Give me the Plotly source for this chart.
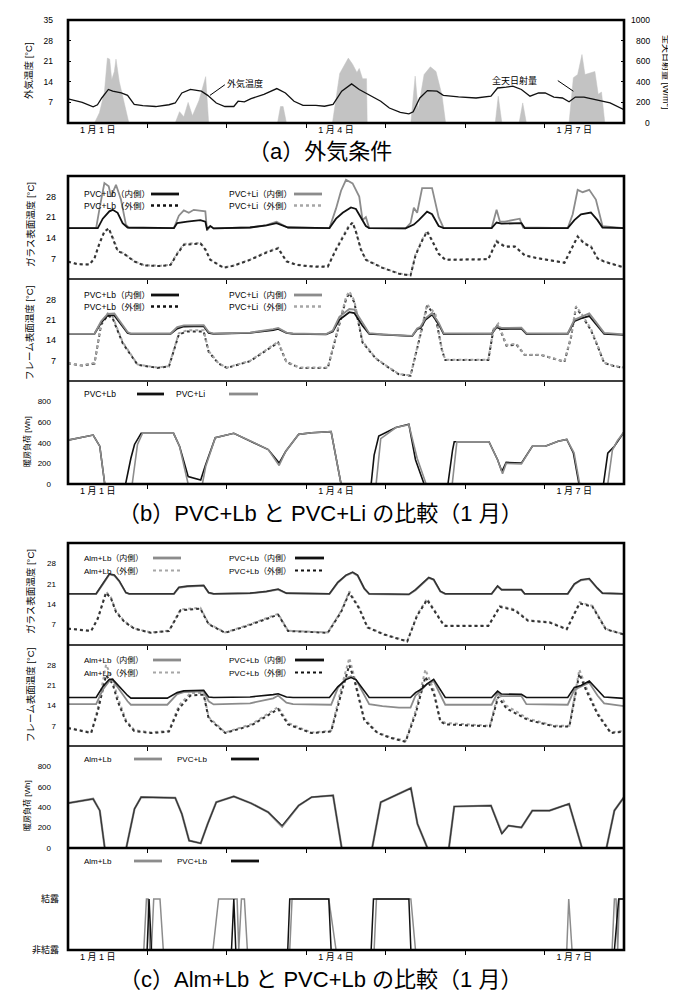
import plotly.graph_objects as go

W, H = 676, 995
X0, X1 = 60, 616
FONT = "Liberation Sans, Noto Sans CJK JP, sans-serif"
BLACK = "#111111"
GRAY = "#8c8c8c"
LGRAY = "#a6a6a6"
FILL = "#c3c3c3"


def fx(p):
    return p / W


def fy(p):
    return 1 - p / H


# ---------------- data ----------------
DAY_TICKS = [24, 48, 72, 96, 120, 144]
LABEL_VALS = [9, 81, 153]
LABEL_TEXT = ["1 月 1 日", "1 月 4 日", "1 月 7 日"]
SR_TICKS = [0, 200, 400, 600, 800, 1000]

# (a) outdoor temperature [°C]
TA_H = [0, 4.3, 7.6, 8.9, 10.2, 12.2, 13.5, 16.1, 18.0, 20.0,
        22.6, 26.5, 30.5, 32.4, 34.4, 37.0, 40.3, 42.2, 44.8, 47.4,
        50.1, 51.4, 53.3, 55.3, 59.2, 63.1, 65.7, 68.3, 71.0, 74.9,
        77.5, 80.1, 82.7, 85.7, 88.0, 90.6, 94.5, 97.1, 100.4, 103.0,
        104.3, 106.3, 108.6, 111.5, 113.4, 118.0, 123.3, 127.8, 129.8, 132.4,
        134.4, 137.0, 139.6, 142.2, 144.2, 146.8, 149.4, 151.4, 153.3, 155.9,
        157.9, 161.2, 163.8, 168]
TA_V = [8.2, 7.0, 5.5, 6.2, 8.5, 11.4, 10.8, 10.2, 9.4, 6.3,
        5.9, 5.6, 6.2, 6.8, 10.2, 11.4, 10.8, 9.4, 6.8, 5.6,
        5.6, 7.4, 7.2, 8.3, 9.7, 11.7, 10.2, 7.4, 6.0, 6.0,
        5.7, 6.3, 10.8, 13.3, 11.4, 9.7, 7.4, 5.1, 3.6, 3.1,
        3.8, 8.5, 11.0, 10.8, 9.4, 8.9, 8.5, 9.1, 11.9, 12.2,
        12.5, 11.4, 9.1, 10.2, 10.2, 8.8, 8.5, 7.2, 8.8, 8.8,
        8.3, 7.6, 6.8, 4.5]

# (a) global solar radiation [W/m2]
SR_H = [0, 8.0, 9.5, 11.0, 11.9, 12.6, 13.2, 14.0, 14.5, 15.5, 18.4,
        32.4, 33.7, 35.0, 36.3, 37.6, 39.6, 41.6, 42.5,
        63.3, 64.2, 65.0, 66.0,
        79.9, 82.1, 83.5, 84.7, 86.0, 87.3, 88.0, 89.0, 90.2, 90.4,
        103.6, 104.9, 105.8, 107.6, 109.5, 111.2, 113.0, 114.1,
        129.1, 130.0, 131.1, 136.3, 137.4, 138.5,
        151.4, 152.7, 154.0, 155.3, 156.2, 157.2, 159.2, 160.2, 161.2, 162.2, 168]
SR_V = [0, 0, 100, 300, 630, 620, 420, 500, 620, 400, 0,
        0, 110, 60, 200, 70, 220, 450, 0,
        0, 160, 160, 0,
        0, 480, 560, 630, 570, 490, 530, 430, 430, 0,
        0, 455, 130, 470, 545, 500, 270, 0,
        0, 260, 0, 0, 195, 0,
        0, 440, 470, 665, 470, 480, 500, 280, 300, 0, 0]

# (b) glass surface temperature, inner side
B_GIN_LB_H = [0, 9.0, 10.5, 12.5, 13.5, 15.0, 16.5, 18.0, 32.0, 33.0,
              36.0, 40.0, 41.5, 42.0, 43.0, 44.0, 55.0, 60.0, 63.0, 65.5,
              66.5, 79.0, 81.0, 83.0, 85.5, 87.0, 88.5, 90.0, 91.0, 102.0,
              104.5, 106.0, 108.5, 110.0, 112.0, 113.5, 128.0, 129.5, 131.0, 137.0,
              138.0, 151.0, 153.0, 155.0, 158.0, 160.0, 161.5, 168]
B_GIN_LB_V = [17.3, 17.3, 20.5, 23.0, 23.5, 22.5, 19.0, 17.5, 17.3, 19.0,
              19.5, 20.0, 19.5, 17.0, 18.0, 17.2, 17.5, 18.2, 19.0, 18.0,
              17.5, 17.3, 20.5, 22.5, 24.3, 23.8, 21.0, 18.0, 17.3, 17.2,
              18.5, 20.0, 22.9, 22.0, 18.0, 17.3, 17.3, 19.2, 18.8, 19.0,
              17.3, 17.3, 20.0, 22.0, 22.6, 20.0, 17.5, 17.3]
B_GIN_LI_H = [0, 8.5, 9.7, 11.0, 12.3, 13.0, 14.5, 16.0, 17.5, 18.5,
              32.0, 33.5, 35.0, 36.5, 38.0, 41.5, 42.0, 43.0, 44.0, 55.0,
              60.0, 63.0, 65.5, 66.5, 79.0, 81.0, 82.5, 84.0, 86.0, 88.0,
              89.0, 90.0, 91.0, 102.0, 103.5, 104.5, 105.5, 107.0, 110.0, 112.0,
              113.5, 128.0, 129.5, 130.5, 132.0, 136.5, 137.5, 151.0, 152.5, 154.0,
              155.5, 157.5, 159.5, 161.5, 168]
B_GIN_LI_V = [17.3, 17.3, 25.0, 32.6, 31.5, 28.0, 32.0, 27.0, 18.5, 17.3,
              17.3, 21.5, 23.3, 22.5, 23.5, 23.0, 16.5, 18.0, 17.2, 17.5,
              18.3, 19.5, 18.0, 17.5, 17.3, 24.0, 30.0, 33.7, 32.5, 28.0,
              20.0, 21.0, 17.3, 17.2, 19.0, 24.2, 22.5, 30.9, 30.9, 21.0,
              17.3, 17.3, 23.5, 19.5, 19.5, 20.5, 17.5, 17.3, 22.0, 30.3,
              29.5, 30.3, 27.0, 18.0, 17.3]

# (b) glass surface temperature, outer side
B_GOUT_H = [0, 3, 6.5, 8, 9.5, 11, 12.3, 13.5, 15, 17,
            20, 23, 28, 31, 33, 35, 40, 41.5, 43, 47,
            50, 55, 60, 63.5, 66, 69, 74, 78.5, 81, 83,
            85, 86, 87, 88.5, 90, 95, 100, 103.5, 105, 107,
            108.5, 110, 112, 114, 127, 129.5, 132, 135, 138, 142,
            147, 150, 152.5, 154, 156, 158, 160, 162, 168]
B_GOUT_LB_V = [5.9, 5.0, 4.9, 7.0, 12.0, 16.0, 17.3, 14.0, 9.5, 8.5,
               6.0, 4.6, 4.4, 4.8, 8.5, 11.6, 12.1, 10.0, 6.5, 3.8,
               4.5, 6.5, 9.0, 10.4, 6.0, 4.8, 4.2, 4.2, 10.0, 14.0,
               18.0, 19.2, 16.0, 10.0, 6.5, 3.8, 1.8, 1.2, 8.0, 13.0,
               16.1, 13.0, 8.5, 6.5, 6.7, 12.7, 11.0, 11.0, 8.0, 7.0,
               6.0, 5.5, 11.0, 14.4, 12.0, 11.0, 7.0, 5.9, 3.9]
B_GOUT_LI_V = [6.0, 5.1, 5.0, 7.2, 12.3, 16.4, 17.0, 14.3, 9.8, 8.6,
               6.1, 4.7, 4.5, 4.9, 8.8, 11.9, 12.3, 10.2, 6.6, 3.9,
               4.6, 6.6, 9.2, 10.6, 6.1, 4.9, 4.3, 4.3, 10.3, 14.5,
               18.5, 19.0, 16.4, 10.3, 6.6, 3.9, 1.9, 1.3, 8.3, 13.4,
               16.4, 13.3, 8.7, 6.6, 6.8, 13.0, 11.2, 11.2, 8.1, 7.1,
               6.1, 5.6, 11.3, 14.6, 12.2, 11.2, 7.1, 6.0, 4.0]

# (b) frame surface temperature, inner side
B_FIN_H = [0, 8, 10, 12, 14, 16, 18, 19, 31, 33,
           35, 41, 42.5, 44, 55, 62, 63.5, 66, 68, 78,
           80, 82, 85, 86.5, 89, 91, 95, 100, 104, 105.5,
           106.5, 108, 110, 112, 113.5, 128, 129.5, 131, 137, 138.5,
           151, 153, 155, 157.5, 160, 162, 168]
B_FIN_LB_V = [16.2, 16.2, 20.0, 22.5, 22.5, 19.5, 16.5, 16.2, 16.2, 18.0,
              18.7, 18.8, 16.5, 16.2, 16.5, 17.5, 17.9, 16.5, 16.2, 16.0,
              17.0, 21.0, 23.6, 23.3, 19.0, 16.2, 15.9, 15.5, 15.4, 17.8,
              18.2, 21.0, 22.8, 19.5, 16.2, 16.2, 18.5, 17.8, 18.0, 16.2,
              16.2, 20.5, 21.5, 22.3, 19.0, 16.2, 15.8]
B_FIN_LI_V = [16.2, 16.2, 20.5, 23.0, 23.2, 20.0, 16.8, 16.3, 16.3, 18.5,
              19.1, 19.2, 16.8, 16.3, 16.6, 17.8, 18.2, 16.6, 16.3, 16.1,
              17.3, 22.0, 24.7, 24.5, 20.0, 16.4, 16.0, 15.6, 15.5, 18.0,
              18.6, 21.5, 23.3, 20.0, 16.4, 16.3, 18.8, 18.2, 18.3, 16.4,
              16.3, 21.0, 22.0, 23.2, 19.5, 16.5, 16.0]

# (b) frame surface temperature, outer side
B_FOUT_H = [0, 4.3, 8, 10, 12, 13.5, 16.5, 21, 27, 30.5,
            33.5, 36, 41, 42.5, 45.5, 48, 55, 62, 63.5, 66,
            70, 78.5, 82, 84, 85, 86.5, 89, 93, 97, 100,
            103.5, 105, 107, 108.5, 111, 113, 114, 127, 128.5, 130,
            132.5, 135.5, 138, 143, 150, 152, 153.5, 155.5, 158, 160,
            162, 165, 168]
B_FOUT_LB_V = [6.1, 5.3, 6.0, 19.3, 22.5, 21.5, 13.0, 5.6, 4.5, 5.0,
               16.0, 17.0, 17.0, 10.0, 6.0, 4.5, 6.8, 12.0, 13.2, 6.5,
               4.5, 4.5, 19.3, 28.0, 30.2, 27.0, 13.2, 7.7, 4.5, 2.3,
               1.8, 8.5, 18.2, 25.8, 22.5, 10.5, 7.2, 7.2, 17.3, 19.3,
               12.1, 12.5, 8.9, 8.9, 6.6, 15.0, 25.3, 22.0, 17.5, 12.0,
               6.2, 5.1, 4.5]
B_FOUT_LI_V = [6.2, 5.4, 6.2, 19.8, 23.2, 22.0, 13.4, 5.7, 4.6, 5.1,
               16.4, 17.4, 17.4, 10.3, 6.1, 4.6, 6.9, 12.3, 13.5, 6.6,
               4.6, 4.6, 19.8, 28.8, 30.8, 27.6, 13.6, 7.8, 4.6, 2.4,
               1.9, 8.8, 18.7, 26.3, 23.0, 10.8, 7.3, 7.3, 17.7, 19.7,
               12.4, 12.8, 9.0, 9.0, 6.7, 15.4, 25.7, 22.5, 17.9, 12.3,
               6.3, 5.2, 4.6]

# (b) heating load [Wh]
B_LOAD_LB_H = [0, 7.6, 9.6, 11.1, 17.4, 19.0, 20.1, 22.1, 31.9, 33.7,
               36.3, 40.1, 41.4, 44.5, 50.1, 55.3, 60.5, 63.8, 65.8, 69.7,
               73.6, 79.5, 80.8, 82.5, 91.6, 92.5, 93.9, 99.1, 103.0, 105.0,
               107.6, 114.8, 116.2, 116.7, 127.2, 129.8, 131.1, 132.4, 137.0, 140.3,
               144.2, 148.1, 150.7, 152.7, 154.4, 161.8, 163.1, 165.1, 168]
B_LOAD_LB_V = [426, 475, 367, 0, 0, 250, 384, 492, 492, 367,
               72, 39, 170, 449, 492, 416, 334, 203, 318, 482,
               498, 508, 302, 0, 0, 280, 466, 548, 580, 236,
               0, 0, 330, 410, 410, 236, 121, 210, 203, 367,
               367, 416, 433, 302, 0, 0, 300, 367, 505]
B_LOAD_LI_H = [0, 7.6, 9.6, 11.1, 19.4, 21.0, 22.5, 31.9, 33.7, 35.5,
               36.3, 40.6, 41.6, 44.5, 50.1, 55.3, 60.5, 63.8, 65.8, 69.7,
               73.6, 79.5, 80.8, 82.5, 93.1, 94.5, 99.1, 103.0, 105.5, 108.2,
               116.1, 117.5, 127.2, 129.8, 131.3, 132.4, 137.0, 140.3, 144.2, 148.1,
               150.7, 152.9, 154.6, 163.1, 164.5, 166.0, 168]
B_LOAD_LI_V = [426, 475, 367, 0, 0, 384, 492, 492, 367, 100,
               0, 0, 170, 449, 492, 416, 334, 180, 318, 482,
               498, 508, 302, 0, 0, 440, 548, 575, 250, 0,
               0, 410, 410, 236, 100, 200, 195, 367, 367, 416,
               433, 302, 0, 0, 330, 420, 505]

# (c) glass surface temperature, inner side
C_GIN_H = [0, 8.5, 10.5, 12.5, 14, 15.5, 17.5, 18.5, 32, 33.5,
           36, 41, 42.5, 44, 55, 60, 63.5, 66, 79, 81.5,
           84, 86, 87.5, 89.5, 91, 103, 105, 106.5, 109, 110.5,
           112.5, 114, 128, 129.8, 131, 137, 138, 151, 153, 155,
           157.5, 160, 161.5, 168]
C_GIN_PVC_V = [17.6, 17.6, 21.0, 24.4, 24.0, 22.0, 18.0, 17.6, 17.6, 19.8,
               20.2, 20.5, 18.0, 17.6, 17.8, 18.4, 19.2, 17.8, 17.6, 21.5,
               24.0, 25.0, 24.0, 19.5, 17.6, 17.4, 19.0, 20.5, 23.2, 22.5,
               18.5, 17.6, 17.6, 20.3, 19.0, 19.0, 17.6, 17.6, 21.0, 22.4,
               22.8, 19.5, 17.8, 17.6]
C_GIN_ALM_V = [17.5, 17.5, 20.8, 24.2, 23.8, 21.8, 17.9, 17.5, 17.5, 19.6,
               20.0, 20.3, 17.9, 17.5, 17.7, 18.3, 19.0, 17.7, 17.5, 21.3,
               23.8, 24.8, 23.8, 19.3, 17.5, 17.3, 18.8, 20.3, 23.0, 22.3,
               18.3, 17.5, 17.5, 20.1, 18.9, 18.9, 17.5, 17.5, 20.8, 22.2,
               22.6, 19.3, 17.7, 17.5]

# (c) glass surface temperature, outer side
C_GOUT_H = [0, 7, 9, 11.5, 13, 14.5, 17, 20, 25, 30.5,
            34, 40, 42.5, 47.5, 54, 63.5, 66.5, 78.5, 82.5, 85,
            88, 90.5, 95.5, 102.5, 105.5, 108.5, 113, 114, 127, 130.5,
            135, 139, 145.5, 150.7, 154.6, 158.5, 162.5, 168]
C_GOUT_PVC_V = [5.6, 4.8, 9.0, 17.9, 16.0, 11.3, 8.0, 5.6, 4.2, 4.8,
                11.9, 12.5, 7.1, 4.2, 6.5, 10.4, 4.8, 4.2, 11.3, 17.9,
                12.5, 6.0, 3.6, 1.2, 10.1, 15.5, 7.7, 6.5, 6.5, 13.1,
                11.9, 8.3, 7.7, 5.4, 14.3, 13.1, 5.4, 3.6]
C_GOUT_ALM_V = [5.7, 4.9, 9.3, 18.3, 16.3, 11.6, 8.2, 5.7, 4.3, 4.9,
                12.2, 12.8, 7.3, 4.3, 6.7, 10.7, 4.9, 4.3, 11.6, 18.4,
                12.8, 6.2, 3.7, 1.3, 10.4, 15.9, 7.9, 6.7, 6.7, 13.4,
                12.2, 8.5, 7.9, 5.5, 14.7, 13.4, 5.5, 3.7]

# (c) frame surface temperature, inner side
C_FIN_PVC_H = [0, 8.5, 10.5, 12.5, 13.5, 15.5, 18, 19, 30, 33,
               35, 41, 42.5, 44, 55, 62, 63.5, 66, 68, 79,
               81.5, 84, 85.5, 87, 89.5, 91, 103.5, 105, 106.5, 108.5,
               110.5, 112.5, 114, 128, 129.8, 131, 137, 138.5, 151, 153,
               155, 157.5, 160, 162, 168]
C_FIN_PVC_V = [16.8, 16.8, 20.5, 23.1, 23.1, 20.5, 17.5, 16.6, 16.6, 18.5,
               19.1, 19.3, 17.0, 16.8, 17.0, 17.8, 18.1, 17.0, 16.8, 16.8,
               20.5, 23.0, 23.7, 23.0, 19.0, 16.8, 16.8, 18.5, 19.5, 21.5,
               23.1, 19.5, 16.8, 16.8, 19.0, 18.0, 17.9, 16.8, 16.8, 20.3,
               21.0, 22.5, 19.5, 17.0, 16.5]
C_FIN_ALM_H = [0, 8.5, 10.5, 12.5, 13.5, 15.5, 18, 19, 30, 33,
               35, 41, 42.5, 44, 55, 62, 63.5, 66, 68, 79.5,
               81.5, 84, 85.5, 87, 89.5, 91, 95, 100, 103.5, 105,
               106.5, 108.5, 110.5, 112.5, 114, 128, 129.8, 131, 137, 138.5,
               151, 153, 155, 157.5, 160, 162, 168]
C_FIN_ALM_V = [14.5, 14.5, 19.5, 22.5, 22.8, 19.5, 15.5, 14.3, 14.3, 18.0,
               18.7, 18.9, 15.5, 14.4, 14.8, 16.5, 17.5, 15.0, 14.5, 14.3,
               20.0, 23.5, 24.2, 23.0, 17.5, 14.5, 13.8, 13.3, 13.3, 17.5,
               19.0, 21.5, 22.5, 17.5, 14.3, 14.3, 18.5, 17.3, 17.3, 14.5,
               14.3, 19.5, 20.5, 21.9, 17.5, 14.8, 13.8]

# (c) frame surface temperature, outer side
C_FOUT_H = [0, 7, 9, 11.5, 13.5, 15, 17.5, 20, 25, 30.5,
            33.5, 37, 41, 42.5, 47.5, 55.5, 63.5, 66.5, 73.5, 79.5,
            83, 85, 86.5, 89.5, 93.5, 97.5, 102, 105, 108, 110.5,
            112.5, 114, 127.5, 130, 132.5, 136, 139, 147, 151.5, 154.5,
            156.5, 160, 164, 168]
C_FOUT_ALM_V = [6.4, 4.7, 13.0, 28.2, 23.0, 17.0, 9.0, 5.5, 4.7, 5.3,
                14.0, 18.4, 18.4, 10.0, 4.7, 7.6, 13.5, 8.0, 4.7, 5.3,
                22.0, 30.5, 24.0, 9.5, 4.7, 3.0, 1.8, 12.0, 26.5, 19.5,
                9.0, 8.0, 7.0, 18.5, 14.0, 11.5, 9.5, 7.0, 7.0, 26.5,
                20.5, 11.5, 4.7, 5.3]
C_FOUT_PVC_V = [6.2, 4.5, 12.0, 24.5, 21.5, 15.5, 8.5, 5.2, 4.5, 5.0,
                13.0, 17.5, 17.8, 9.5, 4.5, 7.2, 12.8, 7.5, 4.5, 5.0,
                20.0, 28.0, 23.0, 9.0, 4.5, 2.8, 1.5, 11.0, 24.0, 18.5,
                8.5, 7.5, 6.8, 17.0, 13.0, 11.0, 9.0, 6.8, 6.8, 25.0,
                19.5, 11.0, 4.5, 5.0]

# (c) heating load [Wh]
C_LOAD_H = [0, 7.6, 9.6, 11.1, 17.6, 20.1, 22.1, 32.4, 34.4, 36.6,
            40.1, 42.2, 44.8, 50.1, 55.3, 60.5, 64.7, 69.7, 73.6, 80.1,
            82.7, 91.9, 94.5, 99.7, 103.6, 105.6, 108.6, 115.1, 116.7, 127.8,
            131.1, 133.1, 137.0, 140.3, 145.5, 151.4, 155.3, 162.7, 165.1, 168]
C_LOAD_PVC_V = [439, 482, 367, 0, 0, 384, 498, 492, 334, 72,
                46, 236, 449, 505, 439, 351, 220, 416, 498, 515,
                0, 0, 449, 531, 587, 236, 0, 0, 407, 416,
                138, 220, 203, 367, 367, 433, 0, 0, 367, 498]
C_LOAD_ALM_V = [439, 482, 367, 0, 0, 384, 498, 492, 334, 72,
                46, 236, 449, 505, 439, 351, 210, 416, 498, 515,
                0, 0, 449, 531, 587, 236, 0, 0, 407, 416,
                145, 220, 200, 367, 367, 433, 0, 0, 367, 498]

# (c) condensation (0 = 非結露, 1 = 結露)
C_DEW_ALM_H = [0, 22.9, 23.7, 24.2, 24.7, 25.2, 25.9, 27.8, 28.8, 43.8,
               45.5, 51.1, 51.6, 52.4, 53.3, 54.2, 67.0, 67.7, 78.8, 81.0,
               92.5, 93.2, 103.6, 105.0, 150.7, 151.3, 152.3, 164.4, 165.1, 165.6,
               166.1, 166.6, 168]
C_DEW_ALM_V = [0, 0, 1, 1, 0, 0, 1, 1, 0, 0,
               1, 1, 0, 1, 1, 0, 0, 1, 1, 0,
               0, 1, 1, 0, 0, 1, 0, 0, 1, 1,
               0, 1, 1]
C_DEW_PVC_H = [0, 23.9, 24.5, 25.2, 49.4, 50.1, 50.7, 66.4, 67.0, 78.8,
               79.5, 91.6, 92.3, 103.0, 103.6, 165.1, 166.4, 168]
C_DEW_PVC_V = [0, 0, 1, 0, 0, 1, 0, 0, 1, 1,
               0, 0, 1, 1, 0, 0, 1, 1]

# ---------------- figure ----------------
fig = go.Figure()


def line(x, y, xa, ya, color, width=1.8, dash="solid"):
    fig.add_trace(go.Scatter(x=x, y=y, xaxis=xa, yaxis=ya, mode="lines",
                             line=dict(color=color, width=width, dash=dash),
                             showlegend=False, hoverinfo="skip"))


# (a)
fig.add_trace(go.Scatter(x=SR_H, y=SR_V, xaxis="x", yaxis="y", mode="lines",
                         fill="tozeroy", fillcolor=FILL, line=dict(color=FILL, width=0.5),
                         showlegend=False, hoverinfo="skip"))
line(TA_H, TA_V, "x", "y2", BLACK, 1.3)

# (b) glass
line(B_GOUT_H, B_GOUT_LI_V, "x3", "y3", LGRAY, 2.0, "dot")
line(B_GOUT_H, B_GOUT_LB_V, "x3", "y3", "#333333", 2.0, "dot")
line(B_GIN_LI_H, B_GIN_LI_V, "x3", "y3", GRAY, 1.8)
line(B_GIN_LB_H, B_GIN_LB_V, "x3", "y3", BLACK, 1.8)
# (b) frame
line(B_FOUT_H, B_FOUT_LB_V, "x4", "y4", "#333333", 2.0, "dot")
line(B_FOUT_H, B_FOUT_LI_V, "x4", "y4", LGRAY, 2.0, "dot")
line(B_FIN_H, B_FIN_LB_V, "x4", "y4", BLACK, 1.8)
line(B_FIN_H, B_FIN_LI_V, "x4", "y4", GRAY, 1.8)
# (b) load
line(B_LOAD_LB_H, B_LOAD_LB_V, "x5", "y5", BLACK, 1.6)
line(B_LOAD_LI_H, B_LOAD_LI_V, "x5", "y5", GRAY, 1.6)
# (c) glass
line(C_GOUT_H, C_GOUT_ALM_V, "x6", "y6", LGRAY, 2.0, "dot")
line(C_GOUT_H, C_GOUT_PVC_V, "x6", "y6", "#333333", 2.0, "dot")
line(C_GIN_H, C_GIN_ALM_V, "x6", "y6", GRAY, 1.8)
line(C_GIN_H, C_GIN_PVC_V, "x6", "y6", "#333333", 1.6)
# (c) frame
line(C_FOUT_H, C_FOUT_ALM_V, "x7", "y7", LGRAY, 2.0, "dot")
line(C_FOUT_H, C_FOUT_PVC_V, "x7", "y7", "#333333", 2.0, "dot")
line(C_FIN_ALM_H, C_FIN_ALM_V, "x7", "y7", GRAY, 1.8)
line(C_FIN_PVC_H, C_FIN_PVC_V, "x7", "y7", BLACK, 1.6)
# (c) load
line(C_LOAD_H, C_LOAD_ALM_V, "x8", "y8", GRAY, 2.2)
line(C_LOAD_H, C_LOAD_PVC_V, "x8", "y8", "#333333", 1.2)
# (c) condensation
line(C_DEW_ALM_H, C_DEW_ALM_V, "x9", "y9", GRAY, 1.5)
line(C_DEW_PVC_H, C_DEW_PVC_V, "x9", "y9", BLACK, 1.5)


def xcfg(anchor, labels):
    d = dict(domain=[fx(X0), fx(X1)], range=[0, 168], anchor=anchor, showgrid=False,
             zeroline=False, showline=False, automargin=False, fixedrange=True)
    if labels:
        d.update(tickmode="array", tickvals=LABEL_VALS, ticktext=LABEL_TEXT, ticks="",
                 tickfont=dict(size=9, family=FONT, color="black"), ticklabelstandoff=0,
                 minor=dict(ticks="outside", ticklen=4, tickcolor="black", tickwidth=1,
                            tickmode="array", tickvals=DAY_TICKS))
    else:
        d.update(tickmode="array", tickvals=DAY_TICKS, ticks="outside", ticklen=4,
                 tickcolor="black", tickwidth=1, showticklabels=False)
    return d


def ycfg(top, bot, rng, vals, anchor, standoff, text=None, size=9):
    d = dict(domain=[fy(bot), fy(top)], range=rng, anchor=anchor, showgrid=False,
             zeroline=False, showline=False, automargin=False, fixedrange=True,
             tickmode="array", tickvals=vals, ticks="", ticklabelstandoff=standoff,
             tickfont=dict(size=size, family=FONT, color="black"))
    if text is not None:
        d["ticktext"] = text
    return d


TEMP_TICKS = [7, 14, 21, 28]
LOAD_TICKS = [0, 200, 400, 600, 800]

layout = dict(
    width=W, height=H, margin=dict(l=0, r=0, t=0, b=0), autosize=False,
    template="none", paper_bgcolor="white", plot_bgcolor="white", showlegend=False,
    font=dict(family=FONT, color="black"),
    xaxis=xcfg("y", True),
    yaxis=dict(domain=[fy(115), fy(12)], range=[0, 1000], anchor="x", side="right",
               showgrid=False, zeroline=False, showline=False, automargin=False,
               fixedrange=True, tickmode="array", tickvals=SR_TICKS, ticks="inside",
               ticklen=3, tickcolor="black", showticklabels=False),
    yaxis2=dict(range=[0, 35], overlaying="y", side="left", anchor="x", showgrid=False,
                zeroline=False, showline=False, automargin=False, fixedrange=True,
                tickmode="array", tickvals=[7, 14, 21, 28, 35], ticks="inside", ticklen=3,
                tickcolor="black", ticklabelstandoff=14,
                tickfont=dict(size=8.5, family=FONT, color="black")),
    xaxis3=xcfg("y3", False), yaxis3=ycfg(168, 271, [0, 35], TEMP_TICKS, "x3", 11),
    xaxis4=xcfg("y4", False), yaxis4=ycfg(271, 373, [0, 35], TEMP_TICKS, "x4", 11),
    xaxis5=xcfg("y5", True), yaxis5=ycfg(373, 476, [0, 1000], LOAD_TICKS, "x5", 16, size=8),
    xaxis6=xcfg("y6", False), yaxis6=ycfg(535, 637, [0, 35], TEMP_TICKS, "x6", 11, size=8),
    xaxis7=xcfg("y7", False), yaxis7=ycfg(637, 738, [0, 35], TEMP_TICKS, "x7", 11, size=8),
    xaxis8=xcfg("y8", False), yaxis8=ycfg(738, 840, [0, 1000], LOAD_TICKS, "x8", 16, size=8),
    xaxis9=xcfg("y9", True),
    yaxis9=ycfg(840, 942, [0, 2], [0, 1], "x9", 8, text=["非結露", "結露"], size=9),
)
fig.update_layout(**layout)

shapes = []
annotations = []


def rect(top, bot, w=2.6):
    shapes.append(dict(type="rect", xref="paper", yref="paper", x0=fx(X0), x1=fx(X1),
                       y0=fy(bot), y1=fy(top), line=dict(color="black", width=w),
                       fillcolor="rgba(0,0,0,0)", layer="above"))


def hline(y, w=1.3):
    shapes.append(dict(type="line", xref="paper", yref="paper", x0=fx(X0), x1=fx(X1),
                       y0=fy(y), y1=fy(y), line=dict(color="black", width=w), layer="above"))


def sample(x0, x1, y, color, dash="solid", w=2.8):
    shapes.append(dict(type="line", xref="paper", yref="paper", x0=fx(x0), x1=fx(x1),
                       y0=fy(y), y1=fy(y), line=dict(color=color, width=w, dash=dash)))


def text(x, y, s, size=9, anchor="left", angle=0):
    annotations.append(dict(x=fx(x), y=fy(y), xref="paper", yref="paper", text=s,
                            showarrow=False, xanchor=anchor, yanchor="middle",
                            textangle=angle, font=dict(size=size, family=FONT, color="black")))


rect(12, 115)
rect(168, 476)
hline(271)
hline(373)
rect(535, 942)
hline(637)
hline(738)
hline(840, 2.4)

# right-axis tick labels of (a), right-aligned as in the original
for v in SR_TICKS:
    annotations.append(dict(x=fx(644), y=v, xref="paper", yref="y", text=str(v),
                            showarrow=False, xanchor="right", yanchor="middle",
                            font=dict(size=8.5, family=FONT, color="black")))

# axis titles
text(20, 63, "外気温度 [°C]", 9.5, "center", -90)
text(659, 64, "全天日射量 [W/m<sup>2</sup>]", 9, "center", 90)
text(22, 217, "ガラス表面温度 [°C]", 9.5, "center", -90)
text(22, 325, "フレーム表面温度 [°C]", 9.5, "center", -90)
text(19, 434, "暖房負荷 [Wh]", 8, "center", -90)
text(22, 584, "ガラス表面温度 [°C]", 9.5, "center", -90)
text(22, 687, "フレーム表面温度 [°C]", 9.5, "center", -90)
text(19, 798, "暖房負荷 [Wh]", 8, "center", -90)

# panel (a) annotations
annotations.append(dict(x=53.5, y=13.4, xref="x", yref="y2", text="外気温度", showarrow=False,
                        font=dict(size=9, family=FONT, color="black")))
annotations.append(dict(x=135, y=14.4, xref="x", yref="y2", text="全天日射量", showarrow=False,
                        font=dict(size=9, family=FONT, color="black")))
shapes.append(dict(type="line", xref="x", yref="y2", x0=42.9, y0=9.4, x1=47.4, y1=13.0,
                   line=dict(color="black", width=1)))
shapes.append(dict(type="line", xref="x", yref="y2", x0=148.0, y0=14.4, x1=152.7, y1=10.8,
                   line=dict(color="black", width=1)))

# legends (b)
for ry, names in [(186, ("PVC+Lb（内側）", "PVC+Li（内側）")), (287, ("PVC+Lb（内側）", "PVC+Li（内側）"))]:
    text(74, ry, names[0], 8.5)
    sample(143, 171, ry, BLACK)
    text(219, ry, names[1], 8.5)
    sample(286, 314, ry, GRAY)
    text(74, ry + 11.5, names[0].replace("内", "外"), 8.5)
    sample(143, 171, ry + 11.5, BLACK, "dot", 2.6)
    text(219, ry + 11.5, names[1].replace("内", "外"), 8.5)
    sample(286, 314, ry + 11.5, LGRAY, "dot", 2.6)
text(74, 386, "PVC+Lb", 8.5)
sample(129, 156, 386, BLACK)
text(166, 386, "PVC+Li", 8.5)
sample(221, 250, 386, GRAY)

# legends (c)
for ry in (550, 652):
    text(74, ry, "Alm+Lb（内側）", 8)
    sample(145, 173, ry, GRAY)
    text(219, ry, "PVC+Lb（内側）", 8)
    sample(287, 316, ry, BLACK)
    text(74, ry + 12.5, "Alm+Lb（外側）", 8)
    sample(145, 173, ry + 12.5, LGRAY, "dot", 2.2)
    text(219, ry + 12.5, "PVC+Lb（外側）", 8)
    sample(287, 316, ry + 12.5, BLACK, "dot", 2.2)
for ry in (751, 853):
    text(74, ry, "Alm+Lb", 8)
    sample(126, 154, ry, GRAY)
    text(167, ry, "PVC+Lb", 8)
    sample(223, 251, ry, BLACK)

# captions
text(312, 143, "（a）外気条件", 22, "center")
text(312, 505, "（b）PVC+Lb と PVC+Li の比較（1 月）", 22, "center")
text(312, 971, "（c）Alm+Lb と PVC+Lb の比較（1 月）", 22, "center")

fig.update_layout(shapes=shapes, annotations=annotations)
fig.write_html("out.html")
